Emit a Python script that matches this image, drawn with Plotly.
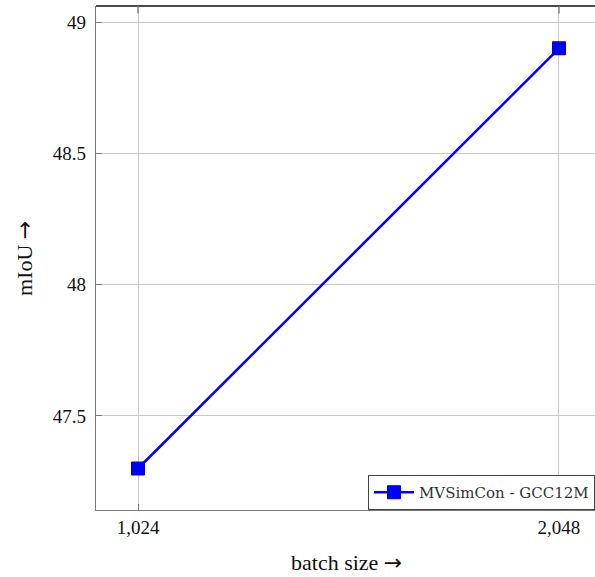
import plotly.graph_objects as go

batch_sizes = [1024, 2048]
miou = [47.3, 48.9]
series_name = "MVSimCon - GCC12M"
x_tick_vals = [1024, 2048]
x_tick_text = ["1,024", "2,048"]
y_tick_vals = [47.5, 48.0, 48.5, 49.0]
y_tick_text = ["47.5", "48", "48.5", "49"]

SERIF = "Liberation Serif, Times New Roman, serif"
ARROW = "<span style='font-family:DejaVu Sans'>\u2192</span>"

fig = go.Figure()
fig.add_trace(go.Scatter(
    x=batch_sizes, y=miou, name=series_name, mode="lines+markers",
    line=dict(color="#0000ff", width=2.5),
    marker=dict(symbol="square", size=13, color="#0000ff",
                line=dict(color="#0000cc", width=1)),
))

fig.update_layout(
    width=595, height=577,
    margin=dict(l=96, r=0, t=6, b=67),
    plot_bgcolor="white", paper_bgcolor="white",
    showlegend=True,
    legend=dict(x=1, y=0, xanchor="right", yanchor="bottom",
                bgcolor="white", bordercolor="#444", borderwidth=1,
                font=dict(family="DejaVu Serif", size=15, color="#333"),
                itemwidth=40),
    xaxis=dict(range=[921.8, 2135.6], tickvals=x_tick_vals, ticktext=x_tick_text,
               showgrid=True, gridcolor="#c8c8c8", gridwidth=1,
               showline=True, linecolor="#777", linewidth=1.3,
               ticks="inside", ticklen=6, tickcolor="#777",
               zeroline=False,
               tickfont=dict(family=SERIF, size=19, color="#111")),
    yaxis=dict(range=[47.142, 49.061], tickvals=y_tick_vals, ticktext=y_tick_text,
               showgrid=True, gridcolor="#c8c8c8", gridwidth=1,
               showline=True, linecolor="#777", linewidth=1.3,
               ticks="inside", ticklen=6, tickcolor="#777",
               ticklabelstandoff=5,
               zeroline=False,
               tickfont=dict(family=SERIF, size=19, color="#111")),
    annotations=[
        dict(text="batch size " + ARROW, xref="paper", yref="paper",
             x=0.503, y=-0.105, xanchor="center", yanchor="middle",
             showarrow=False, font=dict(family=SERIF, size=22, color="#111")),
        dict(text="mIoU " + ARROW, xref="paper", yref="paper",
             x=-0.1443, y=0.5, xanchor="center", yanchor="middle", textangle=-90,
             showarrow=False, font=dict(family=SERIF, size=22, color="#111")),
    ],
    shapes=[
        dict(type="line", xref="paper", yref="paper", x0=0, x1=1, y0=1, y1=1,
             line=dict(color="#111", width=1.3)),
    ] + [
        dict(type="line", xref="x", yref="paper", x0=v, x1=v, y0=1, y1=0.985,
             line=dict(color="#777", width=1.3)) for v in x_tick_vals
    ],
)

fig.write_html("out.html", config={"displayModeBar": False},
               post_script="document.body.style.margin='0px';")
